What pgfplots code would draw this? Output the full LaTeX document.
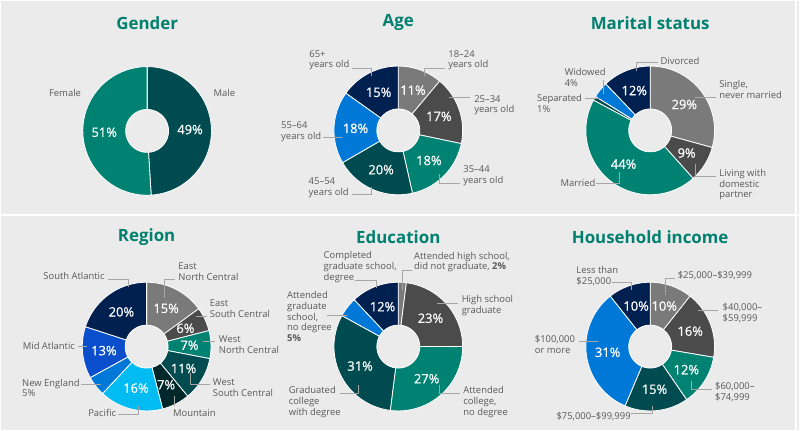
\documentclass[border=0pt]{standalone}
\usepackage{pgfplots}
\pgfplotsset{compat=1.18}
\usepackage{fontspec}
\setmainfont{Open Sans}
\newfontfamily\pctfont{Open Sans}[FakeBold=0.7]
\definecolor{bgcol}{HTML}{EBEBEB}
\definecolor{cgray}{HTML}{7A7A7A}
\definecolor{cdgray}{HTML}{4B4B4B}
\definecolor{cteal}{HTML}{008272}
\definecolor{cdteal}{HTML}{004B50}
\definecolor{cblue}{HTML}{0078D7}
\definecolor{cnavy}{HTML}{002050}
\definecolor{croyal}{HTML}{0A4ECB}
\definecolor{ccyan}{HTML}{00BCF2}
\definecolor{cdark}{HTML}{00282B}
\definecolor{titlecol}{HTML}{00806F}
\definecolor{txtcol}{HTML}{595959}
\definecolor{leadcol}{HTML}{A6A6A6}
\tikzset{
  lab/.style={anchor=west,align=left,inner sep=0pt,text=txtcol,font=\fontsize{9.5}{10.7}\selectfont},
  pct/.style={inner sep=0pt,text=white,font=\pctfont\fontsize{13}{15}\selectfont},
  ttl/.style={inner sep=0pt,text=titlecol,font=\bfseries\fontsize{17}{20}\selectfont}}
\def\Rout{64.5}
\def\Rin{21.5}
\def\Rlab{43}
\newcommand\donut[3]{\xdef\dcx{#1}\xdef\dcy{#2}\xdef\dtot{#3}\xdef\dcum{0}}
\newcommand\slice[3]{%
  \pgfmathsetmacro\aA{\dcum/\dtot*360}%
  \pgfmathsetmacro\aB{(\dcum+#1)/\dtot*360}%
  \pgfmathsetmacro\aM{(\aA+\aB)/2}%
  \pgfmathsetmacro\lx{\dcx+\Rlab*sin(\aM)}%
  \pgfmathsetmacro\ly{\dcy+\Rlab*cos(\aM)}%
  \edef\doit{\noexpand\addplot[fill=#2,draw=white,line width=0.8pt,domain=\aA:\aB,samples=40,variable=\noexpand\t] ({\dcx+\Rout*sin(\noexpand\t)},{\dcy+\Rout*cos(\noexpand\t)}) -- (axis cs:\dcx,\dcy) -- cycle;}%
  \doit
  \ifnum#3=1 \edef\doit{\noexpand\node[pct] at (axis cs:\lx,\ly) {#1\noexpand\%};}\doit\fi
  \pgfmathsetmacro\tmp{\dcum+#1}\xdef\dcum{\tmp}%
}
\newcommand\hole{%
  \edef\doit{\noexpand\addplot[fill=bgcol,draw=white,line width=0.8pt,domain=0:360,samples=72,variable=\noexpand\t] ({\dcx+\Rin*sin(\noexpand\t)},{\dcy+\Rin*cos(\noexpand\t)}) -- cycle;}%
  \doit}
\newcommand\lead[1]{\addplot[leadcol,line width=0.8pt] coordinates {#1};}
\newcommand\lab[3]{\node[lab] at (axis cs:#1,#2) {#3};}
\newcommand\ttl[3]{\node[ttl] at (axis cs:#1,#2) {#3};}
\begin{document}
\begin{tikzpicture}
\begin{axis}[width=800bp,height=430bp,scale only axis,xmin=0,xmax=800,ymin=0,ymax=430,hide axis,clip=false]
% background
\addplot[fill=bgcol,draw=none] coordinates {(0,0) (800,0) (800,430) (0,430)} -- cycle;
\addplot[white,line width=2pt] coordinates {(0,215) (800,215)};
\addplot[white,line width=1.5pt] coordinates {(797,0) (797,430)};
% ---------- Gender
\ttl{146.5}{408}{Gender}
\donut{146.5}{299.5}{100}
\slice{49}{cdteal}{1}
\slice{51}{cteal}{1}
\hole
\lab{48}{337.3}{Female}
\lab{213}{337.3}{Male}
% ---------- Age
\ttl{398.3}{408}{Age}
\donut{398.3}{300}{99}
\slice{11}{cgray}{1}
\slice{17}{cdgray}{1}
\slice{18}{cteal}{1}
\slice{20}{cdteal}{1}
\slice{18}{cblue}{1}
\slice{15}{cnavy}{1}
\hole
\lead{(445,361.7) (424.3,361.7) (424.3,355)}
\lead{(470,333.3) (449.3,333.3)}
\lead{(439,256.7) (439,247.3) (460,247.3)}
\lead{(352.3,235.7) (371.7,235.7) (371.7,243.3)}
\lead{(323.3,293.3) (341.7,293.3)}
\lead{(352.3,361.7) (371.7,361.7) (371.7,355)}
\lab{448.3}{370.3}{18--24\\years old}
\lab{474.3}{325.3}{25--34\\years old}
\lab{463.3}{254.5}{35--44\\years old}
\lab{308.3}{242.8}{45--54\\years old}
\lab{280.7}{298.7}{55--64\\years old}
\lab{309}{370.3}{65+\\years old}
% ---------- Marital status
\ttl{650.8}{408}{Marital status}
\donut{650.8}{300}{99}
\slice{29}{cgray}{1}
\slice{9}{cdgray}{1}
\slice{44}{cteal}{1}
\slice{1}{cdteal}{0}
\slice{4}{cblue}{0}
\slice{12}{cnavy}{1}
\hole
\lead{(658.3,368.3) (636.7,368.3) (636.7,360)}
\lead{(695.7,333.3) (716.7,333.3)}
\lead{(695.7,266.7) (695.7,254.3) (716.7,254.3)}
\lead{(596.7,246.7) (620,246.7) (620,258.3)}
\lead{(585,331.7) (600,331.7)}
\lead{(604.3,350.7) (604.3,336.7)}
\lab{661}{370}{Divorced}
\lab{720}{341.2}{Single,\\never married}
\lab{720}{245.5}{Living with\\domestic\\partner}
\lab{560.7}{247.3}{Married}
\lab{537.3}{327}{Separated\\1\%}
\lab{565}{353}{Widowed\\4\%}
% ---------- Region
\ttl{146}{193}{Region}
\donut{146}{83.3}{100}
\slice{15}{cgray}{1}
\slice{6}{cdgray}{1}
\slice{7}{cteal}{1}
\slice{11}{cdteal}{1}
\slice{7}{cdark}{1}
\slice{16}{ccyan}{1}
\slice{5}{cblue}{0}
\slice{13}{croyal}{1}
\slice{20}{cnavy}{1}
\hole
\lead{(174,151) (164.3,151) (164.3,131.7)}
\lead{(195,114) (206.7,114)}
\lead{(202.7,88.3) (215,88.3)}
\lead{(190,56.7) (190,45) (209.3,45)}
\lead{(174,33.3) (174,24)}
\lead{(117.3,15) (137.7,15) (137.7,23.3)}
\lead{(80,45.7) (100,45.7)}
\lead{(76.7,83.3) (86.7,83.3)}
\lead{(107.3,151) (127.7,151) (127.7,143.3)}
\lab{177.7}{158.7}{East\\North Central}
\lab{209.3}{121.5}{East\\South Central}
\lab{218.3}{85.5}{West\\North Central}
\lab{212.3}{42.2}{West\\South Central}
\lab{172.3}{16.7}{Mountain}
\lab{87.3}{16.7}{Pacific}
\lab{21}{42}{New England\\5\%}
\lab{21.7}{84}{Mid Atlantic}
\lab{42.3}{154.3}{South Atlantic}
% ---------- Education
\ttl{398.3}{193}{Education}
\donut{398.3}{83.3}{100}
\slice{2}{cgray}{0}
\slice{23}{cdgray}{1}
\slice{27}{cteal}{1}
\slice{31}{cdteal}{1}
\slice{5}{cblue}{0}
\slice{12}{cnavy}{1}
\hole
\lead{(355,150) (376.7,150) (376.7,142.3)}
\lead{(411.7,160) (402.7,160) (402.7,140)}
\lead{(437.3,126.7) (458.3,126.7)}
\lead{(439,45) (439,36.7) (460,36.7)}
\lead{(340,36.7) (358.3,36.7) (358.3,45)}
\lead{(326.7,115) (346.7,115)}
\lab{323.3}{163}{Completed\\graduate school,\\degree}
\lab{414}{168}{Attended high school,\\did not graduate, \textbf{2\%}}
\lab{461.7}{124.2}{High school\\graduate}
\lab{463.3}{27.7}{Attended\\college,\\no degree}
\lab{288.3}{27.7}{Graduated\\college\\with degree}
\lab{286.7}{113.3}{Attended\\graduate\\school,\\no degree\\\textbf{5\%}}
% ---------- Household income
\ttl{650.8}{193}{Household income}
\donut{650.8}{83.3}{94}
\slice{10}{cgray}{1}
\slice{16}{cdgray}{1}
\slice{12}{cteal}{1}
\slice{15}{cdteal}{1}
\slice{31}{cblue}{1}
\slice{10}{cnavy}{1}
\hole
\lead{(612.7,147.3) (631.7,147.3) (631.7,140)}
\lead{(675.7,151.7) (665.7,151.7) (665.7,135)}
\lead{(698.3,120) (719,120)}
\lead{(691.7,48.3) (691.7,40) (712.7,40)}
\lead{(631.7,16) (652.7,16) (652.7,23.3)}
\lead{(579.3,89) (598.3,89)}
\lab{576.7}{154.2}{Less than\\\$25,000}
\lab{678.3}{155}{\$25,000--\$39,999}
\lab{723.3}{116.7}{\$40,000--\\\$59,999}
\lab{715.7}{37.8}{\$60,000--\\\$74,999}
\lab{556.7}{13.3}{\$75,000--\$99,999}
\lab{535}{85.3}{\$100,000\\or more}
\end{axis}
\end{tikzpicture}
\end{document}
